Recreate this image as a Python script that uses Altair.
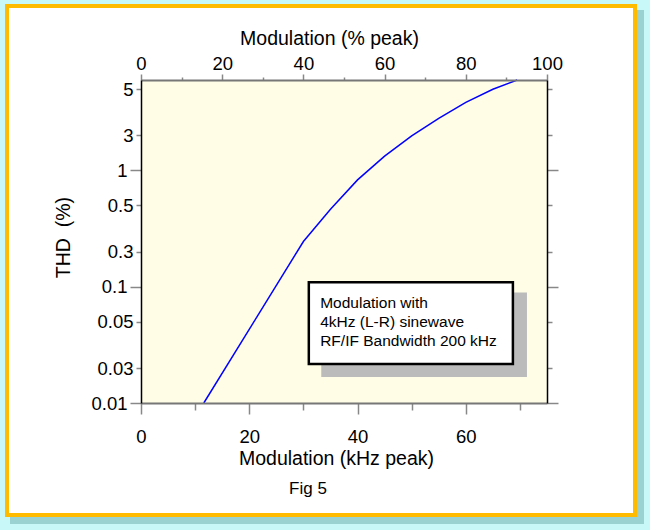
import altair as alt
import pandas as pd

# ---- data ----
khz = [11.6, 30, 35, 40, 45, 50, 55, 60, 65, 69.5]
thd = [0.01, 0.245, 0.464, 0.83, 1.33, 1.98, 2.81, 3.85, 5.0, 6.0]

khz_ticks = [0, 10, 20, 30, 40, 50, 60, 70]
pct_ticks = [0, 10, 20, 30, 40, 50, 60, 70, 80, 90, 100]
# tick marks sit at these THD positions in the reference, carrying these labels
thd_tick_pos = [0.01, 0.02, 0.05, 0.1, 0.2, 0.5, 1, 2, 5]
thd_tick_labels = ["0.01", "0.03", "0.05", "0.1", "0.3", "0.5", "1", "3", "5"]

note_lines = ["Modulation with", "4kHz (L-R) sinewave", "RF/IF Bandwidth 200 kHz"]
fig_label = "Fig 5"

KHZ_FULL = 75.0  # 100 % peak deviation
W, H = 406, 323
FONT = "Liberation Sans"

df = pd.DataFrame({"khz": khz, "thd": thd})
pct_as_khz = [p * KHZ_FULL / 100 for p in pct_ticks]

xscale = alt.Scale(domain=[0, KHZ_FULL], nice=False, zero=False)
yscale = alt.Scale(type="log", domain=[0.01, 6], nice=False)

major_y = "datum.value == 1 || datum.value == 0.1 || datum.value == 0.01"
y_label_expr = "".join(
    f"abs(datum.value - {p}) < {p} * 1e-6 ? '{l}' : " for p, l in zip(thd_tick_pos, thd_tick_labels)
) + "datum.label"

common = dict(labelFont=FONT, titleFont=FONT, labelColor="black", titleColor="black",
              titleFontWeight="normal", labelFontSize=18.5, titleFontSize=19.5,
              grid=False, zindex=1, labelFlush=False, labelOverlap=False,
              tickColor="#888888", tickWidth=1.5)

x_bottom = alt.Axis(orient="bottom", values=khz_ticks, title="Modulation (kHz peak)",
                    labelExpr="datum.value % 20 == 0 ? datum.label : ''",
                    tickSize={"condition": {"test": "datum.value % 20 == 0", "value": 11}, "value": 7},
                    domainColor="#777777", domainWidth=2, labelPadding=13, titlePadding=4,
                    titleX=195, titleAlign="center",
                    **common)
x_top = alt.Axis(orient="top", values=pct_as_khz, title="Modulation (% peak)",
                 labelExpr="datum.value % 15 == 0 ? format(datum.value * 100 / 75, 'd') : ''",
                 tickSize={"condition": {"test": "datum.value % 15 == 0", "value": 6}, "value": 3},
                 domainColor="#777777", domainWidth=2, labelPadding=1, titlePadding=6,
                 titleX=188, titleAlign="center",
                 **common)
y_left = alt.Axis(orient="left", values=thd_tick_pos, title="THD\u00a0\u00a0(%)",
                  labelExpr=y_label_expr,
                  tickSize={"condition": {"test": major_y, "value": 11}, "value": 5},
                  domainColor="black", domainWidth=1.5, labelPadding=3, titlePadding=17,
                  titleY=157, titleAlign="center",
                  **common)
y_right = alt.Axis(orient="right", values=thd_tick_pos, title=None, labels=False,
                   tickSize={"condition": {"test": major_y, "value": 11}, "value": 5},
                   domainColor="black", domainWidth=1.5, **common)

one = pd.DataFrame({"k": [0]})

frame_shadow = alt.Chart(one).mark_rect(color="#9ad2d2").encode(
    x=alt.value(-131), x2=alt.value(503), y=alt.value(-70), y2=alt.value(444))
frame = alt.Chart(one).mark_rect(fill="white", stroke="#ffbb00", strokeWidth=4).encode(
    x=alt.value(-134), x2=alt.value(494), y=alt.value(-74), y2=alt.value(435))
plot_bg = alt.Chart(one).mark_rect(fill="#fffde6").encode(
    x=alt.value(0), x2=alt.value(W), y=alt.value(0), y2=alt.value(H))

line = alt.Chart(df).mark_line(color="#0000ff", strokeWidth=1.5).encode(
    x=alt.X("khz:Q", scale=xscale, axis=x_bottom),
    y=alt.Y("thd:Q", scale=yscale, axis=y_left),
)
axes2 = alt.Chart(df).mark_line(opacity=0).encode(
    x=alt.X("khz:Q", scale=xscale, axis=x_top),
    y=alt.Y("thd:Q", scale=yscale, axis=y_right),
)

# annotation box (positions in data units)
shadow_box = pd.DataFrame({"x1": [33.3], "x2": [71.3], "y1": [0.0891], "y2": [0.0167]})
note_box = pd.DataFrame({"x1": [31.0], "x2": [68.7], "y1": [0.1095], "y2": [0.0216]})
note_pos = pd.DataFrame({"x": [33.1], "y": [0.084]})

def box(d, **kw):
    return alt.Chart(d).mark_rect(**kw).encode(
        x=alt.X("x1:Q", scale=xscale, axis=None), x2="x2:Q",
        y=alt.Y("y1:Q", scale=yscale, axis=None), y2="y2:Q")

note_shadow = box(shadow_box, color="#bbbbbb")
note_frame = box(note_box, fill="white", stroke="black", strokeWidth=2.5)
note_text = alt.Chart(note_pos).mark_text(
    align="left", baseline="top", font=FONT, fontSize=15.5, lineHeight=19, color="black"
).encode(
    x=alt.X("x:Q", scale=xscale, axis=None),
    y=alt.Y("y:Q", scale=yscale, axis=None),
    text=alt.value(note_lines),
)
fig_text = alt.Chart(one).mark_text(
    align="center", baseline="middle", font=FONT, fontSize=17, color="black"
).encode(x=alt.value(167), y=alt.value(409), text=alt.value(fig_label))

chart = alt.layer(
    frame_shadow, frame, plot_bg, line, axes2, note_shadow, note_frame, note_text, fig_text
).resolve_axis(x="independent", y="independent").properties(
    width=W, height=H,
    autosize=alt.AutoSizeParams(type="none"),
    padding={"left": 141, "top": 80, "right": 650 - 141 - W, "bottom": 530 - 80 - H},
).configure(background="#c8f8f8").configure_view(stroke=None)

chart.save("out.html", embed_options={"renderer": "svg", "actions": False})
